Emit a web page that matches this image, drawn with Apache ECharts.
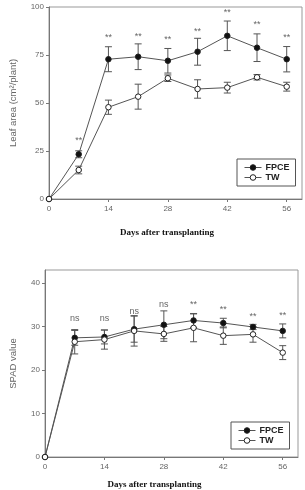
<!DOCTYPE html>
<html>
<head>
<meta charset="utf-8">
<script src="https://cdn.jsdelivr.net/npm/echarts@6/dist/echarts.min.js"></script>
<style>
html,body{margin:0;padding:0;background:#fff;}
#main{width:305px;height:490px;}
</style>
</head>
<body>
<div id="main"></div>
<script>
// days after transplanting
var days = [0, 7, 14, 21, 28, 35, 42, 49, 56];
var dayTicks = [0, 14, 28, 42, 56];

// leaf area (cm2/plant)
var leafFPCE    = [0, 23.3, 72.8, 74.1, 72.0, 76.7, 85.0, 78.8, 72.8];
var leafFPCEErr = [0, 1.8, 6.5, 6.7, 6.4, 7.0, 7.7, 7.2, 6.6];
var leafTW      = [0, 15.1, 47.8, 53.3, 62.9, 57.3, 58.0, 63.4, 58.5];
var leafTWErr   = [0, 2.0, 3.7, 6.5, 1.7, 4.8, 2.8, 1.4, 2.3];
var leafSig     = ['', '**', '**', '**', '**', '**', '**', '**', '**'];
var leafSigY    = [null, 30.7, 83.9, 84.4, 83.3, 87.0, 96.9, 91.1, 83.9];
var leafTicks   = [0, 25, 50, 75, 100];

// SPAD value
var spadFPCE    = [0, 27.4, 27.6, 29.4, 30.4, 31.4, 30.8, 29.9, 29.0];
var spadFPCEErr = [0, 1.7, 1.6, 3.0, 3.2, 1.6, 1.1, 0.6, 1.6];
var spadTW      = [0, 26.5, 27.0, 29.0, 28.3, 29.7, 27.9, 28.2, 24.0];
var spadTWErr   = [0, 2.8, 2.2, 3.5, 1.7, 3.2, 2.0, 1.8, 1.6];
var spadSig     = ['', 'ns', 'ns', 'ns', 'ns', '**', '**', '**', '**'];
var spadSigY    = [null, 31.8, 31.8, 33.4, 35.1, 35.1, 33.8, 32.3, 32.5];
var spadTicks   = [0, 10, 20, 30, 40];

var lineCol = '#555';
var axisCol = '#777';

function pairs(xs, ys, es){
    var out = [];
    for (var i = 0; i < xs.length; i++) {
        out.push(es ? [xs[i], ys[i], es[i]] : [xs[i], ys[i]]);
    }
    return out;
}

function errRender(params, api){
    var e = api.value(2);
    if (!e) return;
    var x = api.value(0), y = api.value(1);
    var hi = api.coord([x, y + e]);
    var lo = api.coord([x, y - e]);
    var w = 3.5;
    var st = {stroke: lineCol, lineWidth: 1};
    return {
        type: 'group',
        children: [
            {type: 'line', shape: {x1: hi[0], y1: hi[1], x2: lo[0], y2: lo[1]}, style: st},
            {type: 'line', shape: {x1: hi[0] - w, y1: hi[1], x2: hi[0] + w, y2: hi[1]}, style: st},
            {type: 'line', shape: {x1: lo[0] - w, y1: lo[1], x2: lo[0] + w, y2: lo[1]}, style: st}
        ]
    };
}

function sigSeries(idx, sig, sigY){
    var d = [];
    for (var i = 0; i < days.length; i++) {
        if (sig[i]) d.push([days[i], sigY[i], sig[i]]);
    }
    return {
        type: 'custom',
        xAxisIndex: idx, yAxisIndex: idx,
        silent: true,
        data: d,
        renderItem: function(params, api){
            var p = api.coord([api.value(0), api.value(1)]);
            var t = d[params.dataIndex][2];
            return {
                type: 'text',
                x: p[0], y: p[1],
                style: {
                    text: t,
                    fill: '#666',
                    font: '9px "Liberation Sans", Arial',
                    align: 'center',
                    verticalAlign: 'middle'
                }
            };
        }
    };
}

function xAxisOf(idx, gap, pad){
    return {
        type: 'value', gridIndex: idx, min: 0, max: 59.6,
        name: 'Days after transplanting',
        nameLocation: 'middle', nameGap: gap,
        nameTextStyle: {fontFamily: '"Liberation Serif", "Times New Roman"', fontWeight: 'bold', fontSize: 9, color: '#111', padding: pad},
        splitLine: {show: false},
        axisLine: {lineStyle: {color: axisCol}},
        axisTick: {length: 3, lineStyle: {color: axisCol}, customValues: dayTicks},
        axisLabel: {fontSize: 8, color: '#666', margin: 6, fontFamily: '"Liberation Sans", Arial', customValues: dayTicks}
    };
}

function yAxisOf(idx, max, ticks, name, gap){
    return {
        type: 'value', gridIndex: idx, min: 0, max: max,
        name: name, nameLocation: 'middle', nameGap: gap,
        nameTextStyle: {fontFamily: '"Liberation Sans", Arial', fontSize: 9.5, color: '#666'},
        splitLine: {show: false},
        axisLine: {show: true, lineStyle: {color: axisCol}},
        axisTick: {show: true, length: 3, lineStyle: {color: axisCol}, customValues: ticks},
        axisLabel: {fontSize: 8, color: '#666', margin: 5, fontFamily: '"Liberation Sans", Arial', customValues: ticks}
    };
}

function lineSeries(idx, name, data, filled){
    return {
        name: name, type: 'line', xAxisIndex: idx, yAxisIndex: idx,
        data: data,
        symbol: 'circle', symbolSize: 5.5,
        lineStyle: {color: lineCol, width: 1},
        itemStyle: {color: filled ? '#111' : '#fff', borderColor: '#222', borderWidth: 1},
        z: filled ? 3 : 4
    };
}

function errSeries(idx, data){
    return {type: 'custom', xAxisIndex: idx, yAxisIndex: idx, silent: true, data: data, renderItem: errRender, z: 2};
}

function legendOf(left, top){
    return {
        data: ['FPCE', 'TW'], orient: 'vertical', left: left, top: top,
        borderColor: '#555', borderWidth: 1, borderRadius: 0,
        padding: [4, 6, 4, 7], itemGap: 1, itemWidth: 17, itemHeight: 7,
        selectedMode: false,
        lineStyle: {width: 1, color: lineCol},
        itemStyle: {borderWidth: 1},
        textStyle: {fontFamily: '"Liberation Sans", Arial', fontWeight: 'bold', fontSize: 9, color: '#222', padding: [0, 0, 0, -1]}
    };
}

var myChart = echarts.init(document.getElementById('main'));
var option = {
    animation: false,
    backgroundColor: '#fff',
    grid: [
        {left: 39, top: 7, right: 3, bottom: 291, show: true, borderColor: '#999', borderWidth: 1},
        {left: 34, top: 270, right: 7, bottom: 29, show: true, borderColor: '#999', borderWidth: 1}
    ],
    legend: [legendOf(237, 159), legendOf(231, 422)],
    xAxis: [xAxisOf(0, 29, [0, 17, 0, 0]), xAxisOf(1, 23, [0, 34, 0, 0])],
    yAxis: [
        yAxisOf(0, 100, leafTicks, 'Leaf area (cm²/plant)', 31),
        yAxisOf(1, 43, spadTicks, 'SPAD value', 27)
    ],
    series: [
        errSeries(0, pairs(days, leafFPCE, leafFPCEErr)),
        errSeries(0, pairs(days, leafTW, leafTWErr)),
        lineSeries(0, 'FPCE', pairs(days, leafFPCE), true),
        lineSeries(0, 'TW', pairs(days, leafTW), false),
        sigSeries(0, leafSig, leafSigY),
        errSeries(1, pairs(days, spadFPCE, spadFPCEErr)),
        errSeries(1, pairs(days, spadTW, spadTWErr)),
        lineSeries(1, 'FPCE', pairs(days, spadFPCE), true),
        lineSeries(1, 'TW', pairs(days, spadTW), false),
        sigSeries(1, spadSig, spadSigY)
    ]
};
myChart.setOption(option);
</script>
</body>
</html>
